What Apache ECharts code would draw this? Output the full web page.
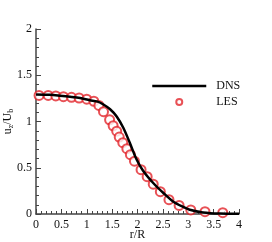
<!DOCTYPE html>
<html>
<head>
<meta charset="utf-8">
<script src="https://cdn.jsdelivr.net/npm/echarts@6/dist/echarts.min.js"></script>
<style>html,body{margin:0;padding:0;background:#fff}#c{width:272px;height:242px}</style>
</head>
<body>
<div id="c"></div>
<script>
var dnsR = [0, 0.28, 0.47, 0.67, 0.87, 1.06, 1.2, 1.32, 1.46, 1.59, 1.72, 1.85, 1.98, 2.11, 2.31, 2.51, 2.70, 2.90, 3.03, 3.29, 3.62, 4.0];
var dnsU = [1.293, 1.288, 1.279, 1.268, 1.254, 1.230, 1.217, 1.187, 1.133, 1.055, 0.933, 0.768, 0.592, 0.468, 0.335, 0.227, 0.136, 0.076, 0.046, 0.017, 0.005, 0.003];
var lesR = [0.06, 0.24, 0.39, 0.54, 0.70, 0.85, 1.00, 1.14, 1.24, 1.33, 1.45, 1.52, 1.59, 1.64, 1.71, 1.79, 1.86, 1.94, 2.07, 2.19, 2.31, 2.45, 2.62, 2.82, 3.05, 3.33, 3.68];
var lesU = [1.282, 1.282, 1.276, 1.268, 1.261, 1.254, 1.241, 1.219, 1.174, 1.106, 1.019, 0.954, 0.895, 0.832, 0.771, 0.706, 0.641, 0.571, 0.479, 0.403, 0.322, 0.241, 0.155, 0.093, 0.044, 0.025, 0.014];
var seriesNames = ['DNS', 'LES'];

function zip(a, b) { return a.map(function (v, i) { return [v, b[i]]; }); }

var font = 'Liberation Serif';
var red = '#e2262c';
var chart = echarts.init(document.getElementById('c'), null, {renderer: 'canvas'});
chart.setOption({
  animation: false,
  grid: {left: 36, right: 33, top: 29, bottom: 28, containLabel: false, outerBoundsMode: 'none'},
  legend: {
    orient: 'vertical', left: 151, top: 80, padding: 0,
    itemWidth: 54, itemHeight: 6, itemGap: 4,
    textStyle: {fontFamily: font, fontSize: 12, color: '#111', padding: [0, 0, 0, 5]},
    data: [
      {name: seriesNames[0], itemStyle: {opacity: 0}, lineStyle: {color: '#000', width: 2.5}},
      {name: seriesNames[1], icon: 'emptyCircle', itemStyle: {color: red, borderColor: red, borderWidth: 1.3}}
    ]
  },
  xAxis: {
    type: 'value', min: 0, max: 4, interval: 0.5,
    name: 'r/R', nameLocation: 'middle', nameGap: 15, nameMoveOverlap: false,
    nameTextStyle: {fontFamily: font, fontSize: 12, color: '#111'},
    axisLine: {show: true, lineStyle: {color: '#444', width: 1.5}},
    axisTick: {inside: true, length: 5, lineStyle: {color: '#444'}},
    minorTick: {show: true, splitNumber: 5, length: 3, lineStyle: {color: '#444'}},
    splitLine: {show: false},
    axisLabel: {fontFamily: font, fontSize: 12, color: '#111', margin: 5}
  },
  yAxis: {
    type: 'value', min: 0, max: 2, interval: 0.5,
    name: 'u{s|z}/U{s|b}', nameLocation: 'middle', nameGap: 21, nameMoveOverlap: false,
    nameTextStyle: {fontFamily: font, fontSize: 12, color: '#111',
      rich: {s: {fontFamily: font, fontSize: 8, verticalAlign: 'bottom', padding: [6, 0, 0, 0]}}},
    axisLine: {show: true, lineStyle: {color: '#444', width: 1.5}},
    axisTick: {inside: true, length: 5, lineStyle: {color: '#444'}},
    minorTick: {show: true, splitNumber: 5, length: 3, lineStyle: {color: '#444'}},
    splitLine: {show: false},
    axisLabel: {fontFamily: font, fontSize: 12, color: '#111', margin: 4}
  },
  series: [
    {
      name: seriesNames[0], type: 'line', data: zip(dnsR, dnsU), smooth: 0.3,
      symbol: 'none', lineStyle: {color: '#000', width: 2.5}, itemStyle: {color: '#000'}
    },
    {
      name: seriesNames[1], type: 'scatter', data: zip(lesR, lesU),
      symbol: 'emptyCircle', symbolSize: 9,
      itemStyle: {color: red, borderColor: red, borderWidth: 1}
    }
  ]
});
</script>
</body>
</html>
